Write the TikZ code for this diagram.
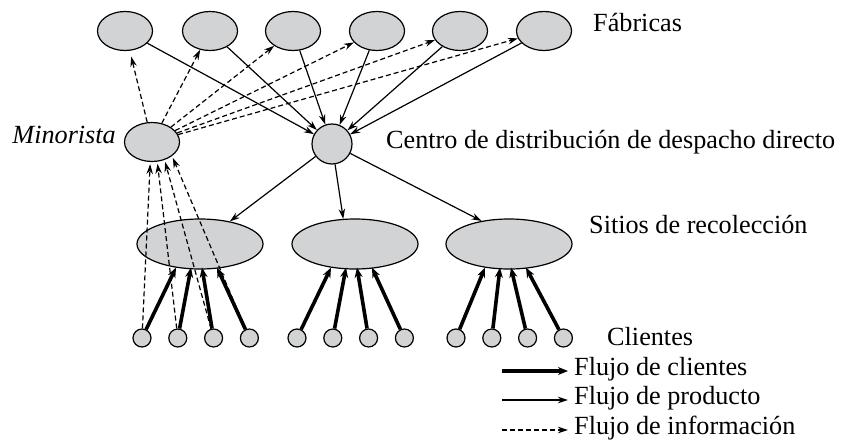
\documentclass[tikz,border=0pt]{standalone}
\usepackage{fontspec}
\setmainfont{Liberation Serif}
\usetikzlibrary{arrows.meta,calc,shapes.geometric}
\definecolor{grisnodo}{RGB}{210,211,213}

\begin{document}
\begin{tikzpicture}[x=1pt,y=-1pt,
    every node/.style={font=\fontsize{26.2}{30}\selectfont},
    fab/.style={draw,fill=grisnodo,ellipse,inner sep=0pt,minimum width=55pt,minimum height=39pt,line width=1.2pt},
    sitio/.style={fab,minimum width=126pt,minimum height=50pt},
    cli/.style={draw,fill=grisnodo,circle,inner sep=0pt,minimum size=18pt,line width=1.2pt},
    txt/.style={anchor=base west,inner sep=0pt},
    prod/.style={-{Stealth[length=10pt,width=6.5pt]},line width=1.2pt},
    info/.style={prod,dash pattern=on 5pt off 3pt},
    flujo/.style={-{Stealth[length=10pt,width=8pt]},line width=3.6pt}]
    \useasboundingbox (0,0) rectangle (843,441);

    % fabricas
    \foreach \i/\x in {1/125,2/210,3/293,4/377,5/460,6/544}
        \node[fab] (f\i) at (\x,31) {};
    \node[txt] (tfab) at (593,32) {Fábricas};

    \node[fab] (min) at (152,142) {};
    \node[anchor=base east,inner sep=0pt] (tmin) at (116,143) {\itshape Minorista};
    \node[cli,minimum size=40pt] (dc) at (332,144) {};
    \node[txt] (tdc) at (386,148) {Centro de distribución de despacho directo};

    % sitios y clientes
    \foreach \s/\x in {1/200,2/355,3/509} \node[sitio] (s\s) at (\x,244) {};
    \node[txt] (tsit) at (589,233) {Sitios de recolección};
    \foreach \s/\x in {1/142,2/297,3/456}
        \foreach \k in {1,...,4}
            \node[cli] (c\s\k) at ({\x+(\k-1)*35.8},338) {};
    \node[txt] (tcli) at (607,345) {Clientes};

    \foreach \i in {1,...,6} \draw[prod] (f\i) -- (dc);
    \draw[prod] (dc) -- (s1);
    \draw[prod] (dc) -- (s2.115);
    \draw[prod] (dc) -- (s3.140);

    \draw[info,shorten >=6pt] (min) -- (f1);
    \foreach \i in {2,...,6} \draw[info] (min) -- (f\i);
    \foreach \k/\a in {1/265,2/285,3/305,4/325} \draw[info,shorten >=2pt] (c1\k) -- (min.\a);

    \foreach \s in {1,2,3} \foreach \k/\dx in {1/-24,2/-9,3/2,4/17}
        \draw[flujo] (c\s\k) -- ($(s\s.south)+(\dx,-2)$);

    % leyenda
    \foreach \j/\est/\t/\y in {1/flujo/Flujo de clientes/371,2/prod/Flujo de producto/400,3/info/Flujo de información/430}{
        \coordinate (la\j) at (502,\y);
        \coordinate (lb\j) at (568,\y);
        \draw[\est] (la\j) -- (lb\j);
        \node[txt] (ley\j) at (574,\y+4) {\t};
    }
\end{tikzpicture}
\end{document}
